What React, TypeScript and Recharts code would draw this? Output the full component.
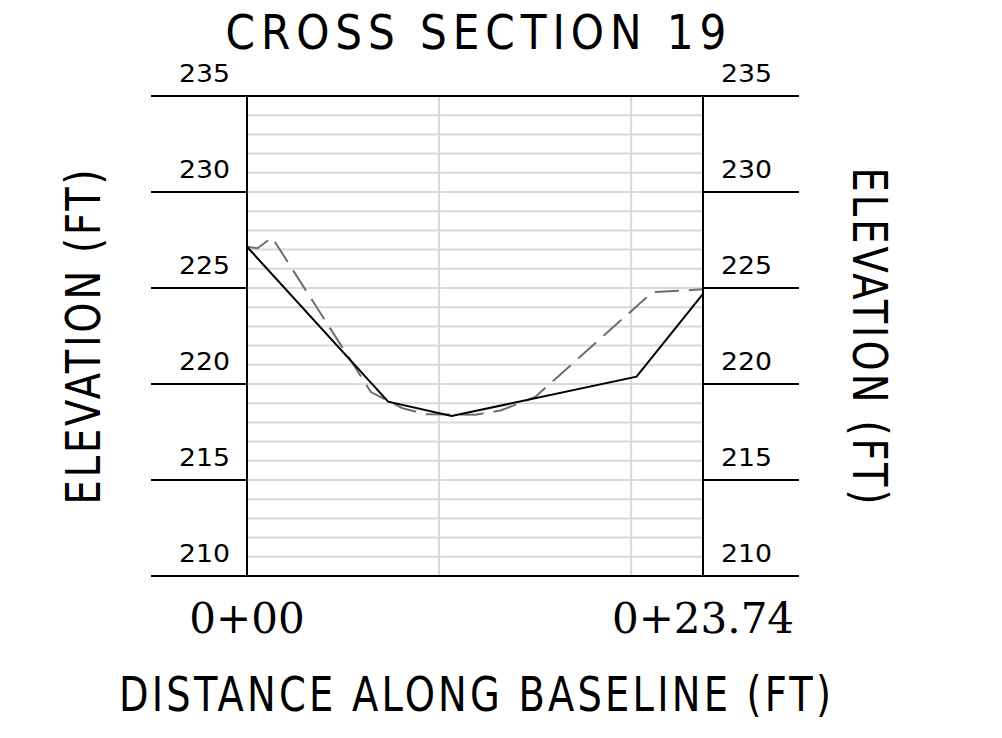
import React from 'react';
import { LineChart, Line, XAxis, YAxis, CartesianGrid, ReferenceLine, Label } from 'recharts';

const chartTitle = 'CROSS SECTION 19';
const xTitle = 'DISTANCE ALONG BASELINE (FT)';
const yTitle = 'ELEVATION (FT)';

// solid profile
const groundDist = [0, 7.35, 10.65, 20.28, 23.74];
const groundElev = [227.15, 219.08, 218.33, 220.38, 224.7];

// dashed profile
const surveyDist = [0, 0.55, 1.3, 6.45, 8.1, 9.3, 11.9, 13.2, 15.0, 21.1, 23.74];
const surveyElev = [227.15, 227.07, 227.64, 219.58, 218.74, 218.42, 218.4, 218.62, 219.32, 224.78, 224.93];

const elevTicks = [210, 215, 220, 225, 230, 235];
const elevGrid = [211, 212, 213, 214, 215, 216, 217, 218, 219, 220, 221, 222, 223, 224, 225, 226, 227, 228, 229, 230, 231, 232, 233, 234];
const distGrid = [10, 20];
const stationTicks = [0, 23.74];

const groundData = groundDist.map((d, i) => ({ dist: d, elev: groundElev[i] }));
const surveyData = surveyDist.map((d, i) => ({ dist: d, elev: surveyElev[i] }));

const SANS = '"DejaVu Sans", sans-serif';
const SERIF = '"DejaVu Serif", serif';

// 0 -> 0+00, 23.74 -> 0+23.74
const station = (v: number) => {
  const hundreds = Math.floor(v / 100);
  const rest = v - hundreds * 100;
  const restText = Number.isInteger(rest) ? String(rest).padStart(2, '0') : rest.toFixed(2).padStart(5, '0');
  return `${hundreds}+${restText}`;
};

// wide-spaced narrow text centred at (cx, cy), rotated by angle
const CadText = ({ cx, cy, angle = 0, length, squeeze = 0.8, children }: any) => (
  <text
    x={0}
    y={0}
    transform={`translate(${cx} ${cy}) rotate(${angle}) scale(${squeeze} 1)`}
    textAnchor="middle"
    fontFamily={SANS}
    fontSize={48}
    textLength={length / squeeze}
    lengthAdjust="spacing"
    fill="#000"
  >
    {children}
  </text>
);

const LeftTick = (props: any) => (
  <text x={props.x + 79} y={props.y - 14} textAnchor="end" fontFamily={SANS} fontSize={25.5}
    textLength={51} lengthAdjust="spacingAndGlyphs" fill="#000">
    {props.payload.value}
  </text>
);

const RightTick = (props: any) => (
  <text x={props.x - 78} y={props.y - 14} textAnchor="start" fontFamily={SANS} fontSize={25.5}
    textLength={51} lengthAdjust="spacingAndGlyphs" fill="#000">
    {props.payload.value}
  </text>
);

const StationTick = (props: any) => (
  <text x={props.x} y={props.y + 49} textAnchor="middle" fontFamily={SERIF} fontSize={42} fill="#000">
    {station(props.payload.value)}
  </text>
);

const App = () => {
  return (
    <div style={{ position: 'absolute', left: 0, top: 0, width: 1002, height: 738, background: '#fff' }}>
      <LineChart width={1002} height={738} margin={{ top: 96, right: 203, bottom: 22, left: 151 }}>
        <CartesianGrid horizontalValues={elevGrid} verticalValues={distGrid} stroke="#d9d9d9" strokeWidth={2} />
        <XAxis
          type="number"
          dataKey="dist"
          domain={[0, 23.74]}
          ticks={stationTicks}
          interval={0}
          height={140}
          axisLine={false}
          tickLine={false}
          tick={StationTick}
        >
          <Label
            content={(p: any) => (
              <CadText cx={p.viewBox.x + p.viewBox.width / 2} cy={p.viewBox.y + 135} length={712}>
                {xTitle}
              </CadText>
            )}
          />
        </XAxis>
        <YAxis
          type="number"
          domain={[210, 235]}
          ticks={elevTicks}
          interval={0}
          width={96}
          tickSize={96}
          tickMargin={0}
          axisLine={{ stroke: '#000', strokeWidth: 2 }}
          tickLine={{ stroke: '#000', strokeWidth: 2 }}
          tick={LeftTick}
        >
          <Label
            content={(p: any) => (
              <CadText cx={100} cy={p.viewBox.y + p.viewBox.height / 2 + 1} angle={-90} length={335}>
                {yTitle}
              </CadText>
            )}
          />
        </YAxis>
        <YAxis
          yAxisId="r"
          orientation="right"
          type="number"
          domain={[210, 235]}
          ticks={elevTicks}
          interval={0}
          width={96}
          tickSize={96}
          tickMargin={0}
          axisLine={{ stroke: '#000', strokeWidth: 2 }}
          tickLine={{ stroke: '#000', strokeWidth: 2 }}
          tick={RightTick}
        >
          <Label
            content={(p: any) => (
              <CadText cx={853} cy={p.viewBox.y + p.viewBox.height / 2} angle={90} length={337}>
                {yTitle}
              </CadText>
            )}
          />
        </YAxis>
        <ReferenceLine y={235} stroke="#000" strokeWidth={2} />
        <ReferenceLine y={210} stroke="#000" strokeWidth={2} />
        <Line
          yAxisId="r"
          data={surveyData}
          dataKey="elev"
          type="linear"
          stroke="#6e6e6e"
          strokeWidth={2}
          strokeDasharray="24 10"
          dot={false}
          activeDot={false}
          isAnimationActive={false}
        />
        <Line
          data={groundData}
          dataKey="elev"
          type="linear"
          stroke="#000"
          strokeWidth={2}
          dot={false}
          activeDot={false}
          isAnimationActive={false}
        />
        <CadText cx={476} cy={49} length={501} squeeze={0.88}>
          {chartTitle}
        </CadText>
      </LineChart>
    </div>
  );
};

export default App;
